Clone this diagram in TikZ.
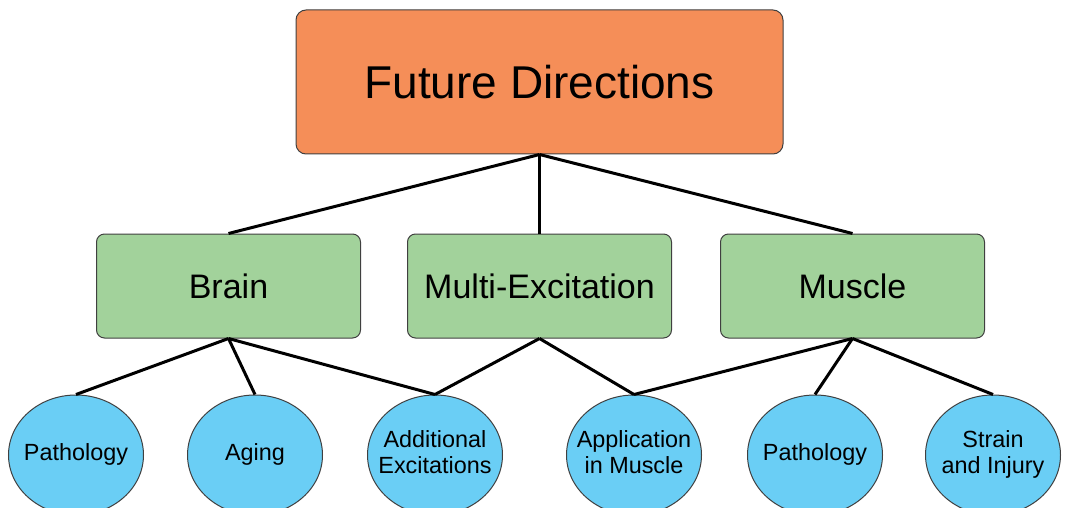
\documentclass[tikz,border=0pt]{standalone}
\usepackage{fontspec}
\setmainfont{Liberation Sans}
\usetikzlibrary{positioning,shapes.geometric}

\definecolor{toporange}{RGB}{245,142,88}
\definecolor{branchgreen}{RGB}{162,210,155}
\definecolor{leafblue}{RGB}{106,206,245}

% leaf text takes no width, so every ellipse keeps the same size
\newcommand{\leaftext}[1]{\makebox[0pt]{\begin{tabular}{@{}c@{}}#1\end{tabular}}}

\tikzset{
	topic/.style={draw=black!75, line width=0.5pt, fill=toporange, rounded corners=5pt,
		minimum width=243.5pt, minimum height=72pt, font=\fontsize{23}{26}\selectfont},
	branch/.style={draw=black!75, line width=0.5pt, fill=branchgreen, rounded corners=4pt,
		minimum width=132pt, minimum height=52pt, font=\fontsize{17}{20}\selectfont},
	leaf/.style={ellipse, draw=black!75, line width=0.5pt, fill=leafblue, inner sep=0pt,
		minimum width=67.5pt, minimum height=60pt,
		font=\fontsize{11.7}{13}\selectfont},
	link/.style={line width=1.5pt, black}
}

\begin{document}
\begin{tikzpicture}
	\useasboundingbox (0,0) rectangle (533pt,-254pt);
	
	\node[topic](future) at (269.75pt,-41pt){Future Directions};
	
	\node[branch, below = 39.5pt of future](multi){Multi-Excitation};
	\node[branch, left = 23pt of multi](brain){Brain};
	\node[branch, right = 24pt of multi](muscle){Muscle};
	
	\node[leaf](addexc) at (217.5pt,-227.5pt){\leaftext{Additional\\Excitations}};
	\node[leaf, left = 22pt of addexc](aging){\leaftext{Aging}};
	\node[leaf, left = 21.5pt of aging](brainpath){\leaftext{Pathology}};
	\node[leaf, right = 31.5pt of addexc](applic){\leaftext{Application\\in Muscle}};
	\node[leaf, right = 22.5pt of applic](musclepath){\leaftext{Pathology}};
	\node[leaf, right = 21pt of musclepath](strain){\leaftext{Strain\\and Injury}};
	
	\draw[link] (future.south) -- (brain.north);
	\draw[link] (future.south) -- (multi.north);
	\draw[link] (future.south) -- (muscle.north);
	
	\draw[link] (brain.south) -- (brainpath.north);
	\draw[link] (brain.south) -- (aging.north);
	\draw[link] (brain.south) -- (addexc.north);
	
	\draw[link] (multi.south) -- (addexc.north);
	\draw[link] (multi.south) -- (applic.north);
	
	\draw[link] (muscle.south) -- (applic.north);
	\draw[link] (muscle.south) -- (musclepath.north);
	\draw[link] (muscle.south) -- (strain.north);
\end{tikzpicture}
\end{document}
